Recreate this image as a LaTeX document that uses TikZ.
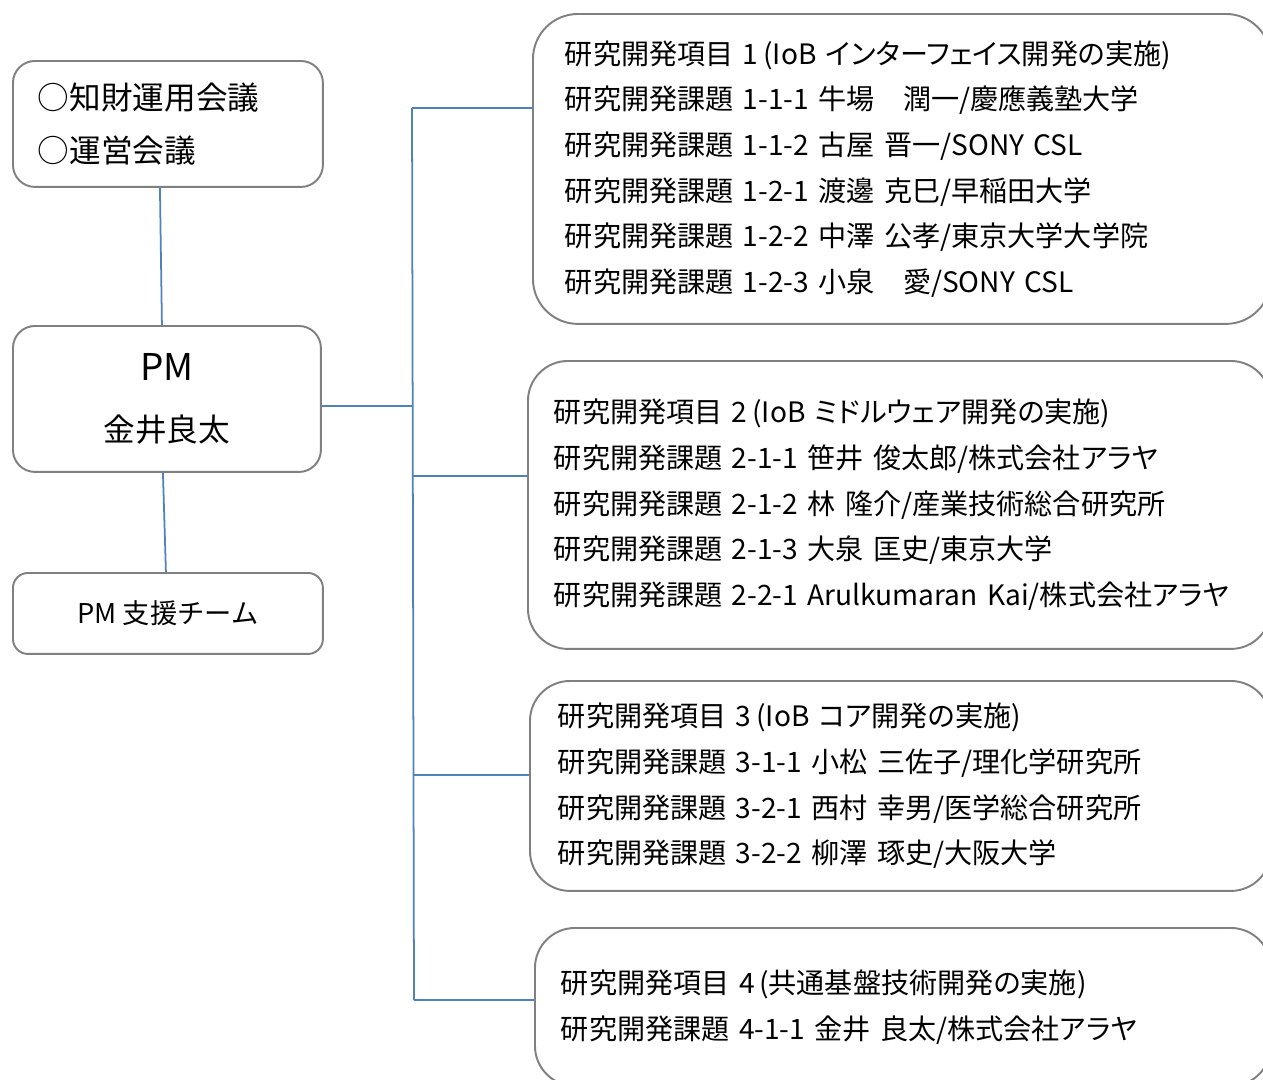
\documentclass[tikz,border=0pt]{standalone}
\usepackage{fontspec}
\setmainfont{Noto Sans CJK JP}
\newfontfamily\itemfont[RawFeature=+palt]{Noto Sans CJK JP}
\usepackage{tikz}
\usetikzlibrary{positioning,calc}
\definecolor{linkblue}{HTML}{4F81BD}
\definecolor{boxgray}{HTML}{808080}

\begin{document}
\begin{tikzpicture}[x=0.02cm, y=-0.02cm]
\tikzstyle{leftbox}=[draw=boxgray, line width=1.1pt, rounded corners=0.44cm, minimum width=6.2cm, anchor=north west]
\tikzstyle{itembox}=[draw=boxgray, line width=1.1pt, anchor=north west, align=left, inner ysep=0pt, font=\itemfont\fontsize{16}{26}\selectfont]
\tikzstyle{link}=[draw=linkblue, line width=1pt]
\path[use as bounding box] (0,0) rectangle (1263,1079);
\clip (0,0) rectangle (1263,1079);

\node[leftbox, minimum height=2.52cm, align=left, inner xsep=0.5cm, text width=5.2cm, font=\fontsize{18}{30}\selectfont] (conf) at (12,60) {○知財運用会議\\○運営会議};
\node[leftbox, minimum width=6.16cm, minimum height=2.92cm, align=center, font=\fontsize{18}{32}\selectfont] (pm) at (12,325) {{\fontsize{21}{32}\selectfont PM}\\[0.1cm]金井良太};
\node[leftbox, minimum height=1.62cm, rounded corners=0.3cm, font=\fontsize{15.5}{20}\selectfont] (supp) at (12,572) {PM 支援チーム};

\node[itembox, rounded corners=0.9cm, minimum width=14.76cm, minimum height=6.2cm, inner xsep=0.64cm, text width=13.48cm] (item1) at (532,13) {研究開発項目 1\,(IoB インターフェイス開発の実施)\\研究開発課題 1-1-1 牛場　潤一/慶應義塾大学\\研究開発課題 1-1-2 古屋 晋一/SONY CSL\\研究開発課題 1-2-1 渡邊 克巳/早稲田大学\\研究開発課題 1-2-2 中澤 公孝/東京大学大学院\\研究開発課題 1-2-3 小泉　愛/SONY CSL};
\node[itembox, rounded corners=0.8cm, minimum width=14.86cm, minimum height=5.76cm, inner xsep=0.52cm, text width=13.82cm] (item2) at (527,360) {研究開発項目 2\,(IoB ミドルウェア開発の実施)\\研究開発課題 2-1-1 笹井 俊太郎/株式会社アラヤ\\研究開発課題 2-1-2 林 隆介/産業技術総合研究所\\研究開発課題 2-1-3 大泉 匡史/東京大学\\研究開発課題 2-2-1 Arulkumaran Kai/株式会社アラヤ};
\node[itembox, rounded corners=0.8cm, minimum width=14.82cm, minimum height=4.2cm, inner xsep=0.56cm, text width=13.7cm] (item3) at (529,680) {研究開発項目 3\,(IoB コア開発の実施)\\研究開発課題 3-1-1 小松 三佐子/理化学研究所\\研究開発課題 3-2-1 西村 幸男/医学総合研究所\\研究開発課題 3-2-2 柳澤 琢史/大阪大学};
\node[itembox, rounded corners=0.8cm, minimum width=14.72cm, minimum height=3.16cm, inner xsep=0.52cm, text width=13.68cm] (item4) at (534,927) {研究開発項目 4\,(共通基盤技術開発の実施)\\研究開発課題 4-1-1 金井 良太/株式会社アラヤ};

\coordinate (top) at (412,108);
\coordinate (j2) at (413,476);
\coordinate (j3) at (414,775);
\coordinate (bot) at (414,1000);

\draw[link] ([xshift=-0.16cm]conf.south) -- ([xshift=-0.1cm]pm.north);
\draw[link] ([xshift=-0.08cm]pm.south) -- ([xshift=-0.04cm]supp.north);
\draw[link] (top) -- (bot);
\draw[link] ([yshift=-0.14cm]pm.east) -- ([yshift=-0.14cm]pm.east -| top);
\draw[link] (top) -- (top -| item1.west);
\draw[link] (j2) -- (j2 -| item2.west);
\draw[link] (j3) -- (j3 -| item3.west);
\draw[link] (bot) -- (bot -| item4.west);
\end{tikzpicture}
\end{document}
